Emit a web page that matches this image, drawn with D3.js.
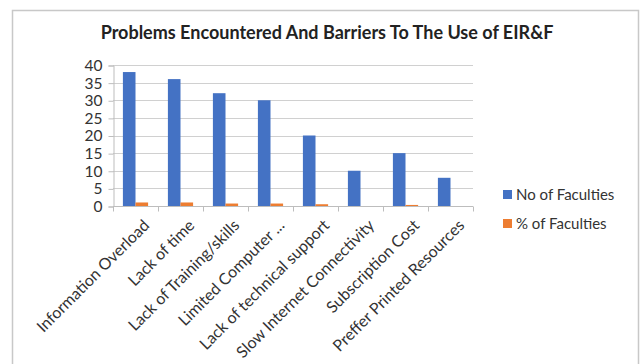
<!DOCTYPE html>
<html><head><meta charset="utf-8">
<script src="https://cdn.jsdelivr.net/npm/d3@7"></script>
<style>body{margin:0;background:#fff}svg{display:block;font-family:Lato,"Open Sans",sans-serif}</style>
</head><body>
<svg id="c" width="640" height="364"></svg>
<script>
const categories = ["Information Overload","Lack of time","Lack of Training/skills","Limited Computer ...","Lack of technical support","Slow Internet  Connectivity","Subscription Cost","Preffer Printed Resources"];
const seriesNames = ["No of Faculties","% of Faculties"];
const noOfFaculties = [38,36,32,30,20,10,15,8];
const pctOfFaculties = [1,1,0.7,0.7,0.5,0,0.3,0];
const yTicks = [0,5,10,15,20,25,30,35,40];
const colors = ["#4472C4","#ED7D31"];
const title = "Problems Encountered And Barriers To The Use of EIR&F";

const svg = d3.select("#c");
// outer frame
svg.append("path").attr("d","M12.5,370 V10.5 H638.5 V370").attr("fill","none").attr("stroke","#c8c8c8").attr("stroke-width",1.5);

svg.append("text").attr("x",327).attr("y",39).attr("text-anchor","middle")
  .attr("font-size",18).attr("font-weight","bold").attr("fill","#222").text(title);

const x0 = d3.scaleBand().domain(categories).range([113,473]).paddingInner(0.44).paddingOuter(0.22);
const x1 = d3.scaleBand().domain(seriesNames).range([0,x0.bandwidth()]);
const y = d3.scaleLinear().domain([0,40]).range([206,65]);

// gridlines
svg.append("g").selectAll("line").data(yTicks.filter(d=>d>0)).join("line")
  .attr("x1",113).attr("x2",473).attr("y1",d=>Math.round(y(d))+0.5).attr("y2",d=>Math.round(y(d))+0.5)
  .attr("stroke","#d0d0d0").attr("stroke-width",1);

// y axis
const ya = svg.append("g").attr("transform","translate(113.5,0.5)")
  .call(d3.axisLeft(y).tickValues(yTicks).tickSize(5).tickPadding(6));
ya.select(".domain").attr("stroke","#bdbdbd");
ya.selectAll(".tick line").attr("stroke","#bdbdbd");
ya.selectAll("text").attr("font-size",15.5).attr("fill","#333").attr("font-family","Lato,sans-serif");

// bars
const data = categories.map((c,i)=>({c, vals:[noOfFaculties[i], pctOfFaculties[i]]}));
const g = svg.append("g");
g.selectAll("g").data(data).join("g").attr("transform",d=>`translate(${x0(d.c)},0)`)
  .selectAll("rect").data(d=>d.vals.map((v,k)=>({k,v}))).join("rect")
  .attr("x",d=>x1(seriesNames[d.k])).attr("width",x1.bandwidth())
  .attr("y",d=>y(d.v)).attr("height",d=>y(0)-y(d.v))
  .attr("fill",d=>colors[d.k]);

// x axis
const xa = d3.scaleBand().domain(categories).range([113,473]);
const xg = svg.append("g").attr("transform","translate(0,206.5)");
xg.append("line").attr("x1",113).attr("x2",473).attr("stroke","#bdbdbd");
xg.selectAll("line.t").data(d3.range(categories.length+1)).join("line").attr("class","t")
  .attr("x1",i=>113.5+i*xa.step()).attr("x2",i=>113.5+i*xa.step()).attr("y1",0).attr("y2",5).attr("stroke","#bdbdbd");
xg.selectAll("text").data(categories).join("text")
  .attr("transform",d=>`translate(${xa(d)+xa.bandwidth()/2+7},12) rotate(-45)`)
  .attr("text-anchor","end").attr("dy","0.7em").attr("font-size",16).attr("fill","#333").text(d=>d);

// legend
const lg = svg.append("g").selectAll("g").data(seriesNames).join("g")
  .attr("transform",(d,i)=>`translate(503,${190+i*29})`);
lg.append("rect").attr("width",9).attr("height",9).attr("fill",(d,i)=>colors[i]);
lg.append("text").attr("x",13).attr("y",10).attr("font-size",15).attr("fill","#333").text(d=>d);
</script>
</body></html>
